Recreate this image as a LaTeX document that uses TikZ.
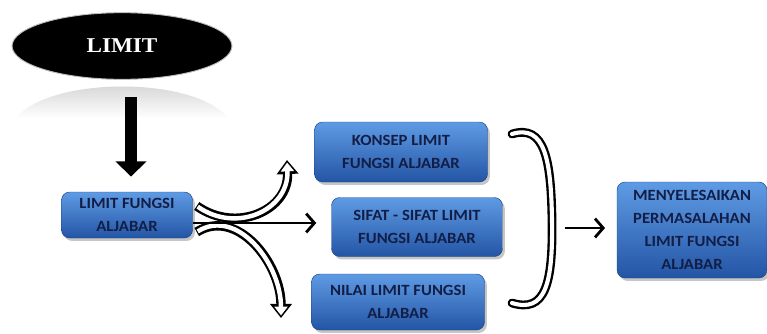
\documentclass[tikz,border=0pt]{standalone}
\usepackage{fontspec}
\newfontfamily\boxfont[FakeStretch=1.07]{Carlito}
\newfontfamily\titlefont[FakeStretch=1.1]{Liberation Serif}
\usepackage{tikz}
\usetikzlibrary{
    arrows.meta,
    positioning,
    shapes.geometric,
    calc,
    shadows
}
\usepackage{xcolor}
\definecolor{boxtop}{RGB}{95,155,228}
\definecolor{boxbot}{RGB}{35,85,165}
\definecolor{navy}{RGB}{18,30,70}

\begin{document}
\begin{tikzpicture}[
    x=0.03cm, y=-0.03cm,
    topic/.style={
        rectangle, rounded corners=7pt, draw=boxbot!80!black, thin,
        top color=boxtop, bottom color=boxbot,
        drop shadow={shadow xshift=2pt, shadow yshift=-2.5pt, opacity=0.45},
        align=center, text=navy, inner sep=2pt,
        font=\boxfont\bfseries\fontsize{13.3}{19.5}\selectfont
    },
    hollow/.style={
        line width=8pt, -{Triangle[length=12pt, width=18pt]},
        postaction={draw=white, line width=3.8pt, -{Triangle[length=7.5pt, width=11pt]},
            shorten >=2.2pt, shorten <=1pt}
    },
    link/.style={line width=2.4pt, -{Straight Barb[length=7pt, width=16pt]}}
]
\useasboundingbox (0,0) rectangle (767,333);

% Title with its reflection
\shade[top color=gray!40, bottom color=white] (16,118) .. controls (50,76) and (195,76) .. (228,118) -- cycle;
\node[ellipse, fill=black, draw=gray!50, line width=0.8pt, minimum width=6.6cm, minimum height=2cm,
    text=white, font=\titlefont\bfseries\fontsize{18}{20}\selectfont] (limit) at (122,46) {LIMIT};

% Topics
\node[topic, minimum width=3.93cm, minimum height=1.38cm] (fungsi) at (127,215) {LIMIT FUNGSI\\ALJABAR};
\node[topic, minimum width=5.19cm, minimum height=1.8cm] (konsep) at (401,152) {KONSEP LIMIT\\FUNGSI ALJABAR};
\node[topic, minimum width=5.13cm, minimum height=1.77cm] (sifat) at (417,227) {SIFAT - SIFAT LIMIT\\FUNGSI ALJABAR};
\node[topic, minimum width=5.19cm, minimum height=1.68cm] (nilai) at (398,302) {NILAI LIMIT FUNGSI\\ALJABAR};
\node[topic, minimum width=4.5cm, minimum height=2.88cm] (solve) at (692,230) {MENYELESAIKAN\\PERMASALAHAN\\LIMIT FUNGSI\\ALJABAR};

% Arrows
\coordinate (drop) at ($(limit.south)+(9,17)$);
\draw[line width=11pt, -{Triangle[length=13pt, width=26pt]}, shorten >=13pt] (drop) -- (drop |- fungsi.north);

\coordinate (up) at (287,160);
\coordinate (down) at (281,318);
\draw[hollow] ($(fungsi.east)+(4,-9)$) .. controls +(40,28) and +(2,50) .. (up);
\draw[hollow] ($(fungsi.east)+(4,17)$) .. controls +(40,-25) and +(0,-55) .. (down);
\draw[link] ($(fungsi.east)+(0,8)$) -- ($(sifat.west)+(-15,-4)$);

% Bracket
\draw[line width=7.5pt, line cap=round, postaction={draw=white, line width=3.5pt}]
    (512,134) .. controls (545,124) and (551,160) .. (552,220)
    .. controls (553,285) and (545,313) .. (512,303);
\coordinate (brk) at (553,228);
\draw[link, shorten <=10pt, shorten >=10pt] (brk) -- (brk -| solve.west);

\end{tikzpicture}
\end{document}
